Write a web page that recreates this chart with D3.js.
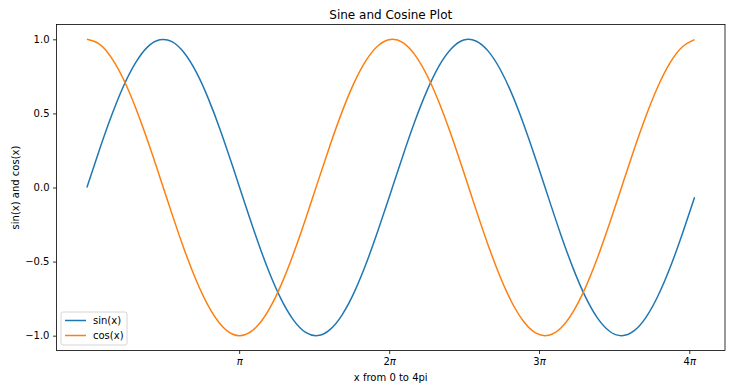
<!DOCTYPE html>
<meta charset="utf-8">
<script src="https://d3js.org/d3.v7.min.js"></script>
<style>
  body { margin: 0; background: #fff; }
  text { font-family: "DejaVu Sans", sans-serif; fill: #000; }
</style>
<div id="chart"></div>
<script>

// sample points along x (0 to 12.5)
var xs = [0, 0.25, 0.5, 0.75, 1, 1.25, 1.5, 1.75, 2, 2.25, 2.5, 2.75, 3, 3.25, 3.5, 3.75,
  4, 4.25, 4.5, 4.75, 5, 5.25, 5.5, 5.75, 6, 6.25, 6.5, 6.75, 7, 7.25, 7.5, 7.75,
  8, 8.25, 8.5, 8.75, 9, 9.25, 9.5, 9.75, 10, 10.25, 10.5, 10.75, 11, 11.25, 11.5, 11.75,
  12, 12.25, 12.5];

var sinVals = [0, 0.247, 0.479, 0.682, 0.841, 0.949, 0.997, 0.984, 0.909, 0.778, 0.598, 0.382,
  0.141, -0.108, -0.351, -0.572, -0.757, -0.895, -0.978, -0.999, -0.959, -0.859, -0.706, -0.508,
  -0.279, -0.033, 0.215, 0.450, 0.657, 0.824, 0.938, 0.995, 0.989, 0.922, 0.798, 0.625,
  0.412, 0.174, -0.075, -0.320, -0.544, -0.735, -0.880, -0.970, -1.000, -0.968, -0.876, -0.729,
  -0.537, -0.311, -0.066];

var cosVals = [1, 0.969, 0.878, 0.732, 0.540, 0.315, 0.071, -0.178, -0.416, -0.628, -0.801, -0.924,
  -0.990, -0.994, -0.937, -0.821, -0.654, -0.446, -0.211, 0.038, 0.284, 0.512, 0.709, 0.861,
  0.960, 0.999, 0.977, 0.893, 0.754, 0.568, 0.347, 0.104, -0.146, -0.386, -0.602, -0.781,
  -0.911, -0.985, -0.997, -0.948, -0.839, -0.679, -0.476, -0.243, 0.004, 0.252, 0.483, 0.685,
  0.844, 0.950, 0.998];

var seriesNames = ["sin(x)", "cos(x)"];
var seriesColors = ["#1f77b4", "#ff7f0e"];

// tick positions on the x axis and their labels (multiplier before an italic pi)
var xTickVals = [3.132, 6.218, 9.30, 12.39];
var xTickLabels = ["", "2", "3", "4"];
var yTickVals = [-1.0, -0.5, 0.0, 0.5, 1.0];

var W = 733, H = 387;
var margin = {top: 24.5, right: 8, bottom: 36.5, left: 56.5};
var width = W - margin.left - margin.right,
    height = H - margin.top - margin.bottom;

var svg = d3.select("#chart").append("svg")
  .attr("width", W)
  .attr("height", H);

var g = svg.append("g")
  .attr("transform", "translate(" + margin.left + "," + margin.top + ")");

var x = d3.scaleLinear().domain([-0.625, 13.125]).range([0, width]);
var y = d3.scaleLinear().domain([-1.1, 1.1]).range([height, 0]);

var line = d3.line()
  .x(function(d) { return x(d[0]); })
  .y(function(d) { return y(d[1]); })
  .curve(d3.curveNatural);

var series = [sinVals, cosVals];
series.forEach(function(vals, i) {
  g.append("path")
    .datum(xs.map(function(v, j) { return [v, vals[j]]; }))
    .attr("fill", "none")
    .attr("stroke", seriesColors[i])
    .attr("stroke-width", 1.5)
    .attr("d", line);
});

// axes
var xAxis = d3.axisBottom(x)
  .tickValues(xTickVals)
  .tickFormat("")
  .tickSize(3.5).tickPadding(3.5);
var yAxis = d3.axisLeft(y)
  .tickValues(yTickVals)
  .tickFormat(function(d) { return d3.format(".1f")(d).replace("-", "\u2212"); })
  .tickSize(3.5).tickPadding(3.5);

var gx = g.append("g").attr("transform", "translate(0," + height + ")").call(xAxis);
var gy = g.append("g").call(yAxis);
[gx, gy].forEach(function(a) {
  a.select(".domain").remove();
  a.selectAll(".tick line").attr("stroke", "#000").attr("stroke-width", 0.8);
  a.selectAll(".tick text").attr("font-size", 10).attr("font-family", "DejaVu Sans");
});

// x tick labels: number upright, pi italic
gx.selectAll(".tick text").each(function(d, i) {
  var t = d3.select(this);
  t.append("tspan").text(xTickLabels[i]);
  t.append("tspan").attr("font-style", "italic").text("\u03c0");
});

// frame
g.append("rect")
  .attr("width", width).attr("height", height)
  .attr("fill", "none").attr("stroke", "#000").attr("stroke-width", 0.8);

// titles
svg.append("text")
  .attr("x", margin.left + width / 2).attr("y", margin.top - 6)
  .attr("text-anchor", "middle").attr("font-size", 12)
  .text("Sine and Cosine Plot");

svg.append("text")
  .attr("x", margin.left + width / 2).attr("y", 381)
  .attr("text-anchor", "middle").attr("font-size", 10)
  .text("x from 0 to 4pi");

svg.append("text")
  .attr("transform", "translate(19," + (margin.top + height / 2) + ") rotate(-90)")
  .attr("text-anchor", "middle").attr("font-size", 10)
  .text("sin(x) and cos(x)");

// legend
var leg = g.append("g").attr("transform", "translate(4.5," + (height - 38.5) + ")");
leg.append("rect")
  .attr("width", 66).attr("height", 33).attr("rx", 2)
  .attr("fill", "#fff").attr("fill-opacity", 0.8)
  .attr("stroke", "#cccccc").attr("stroke-width", 0.8);
seriesNames.forEach(function(name, i) {
  var row = leg.append("g").attr("transform", "translate(0," + (8.5 + i * 15) + ")");
  row.append("line")
    .attr("x1", 4).attr("x2", 25)
    .attr("stroke", seriesColors[i]).attr("stroke-width", 1.5);
  row.append("text")
    .attr("x", 32).attr("y", 3.5)
    .attr("font-size", 10)
    .text(name);
});

</script>
